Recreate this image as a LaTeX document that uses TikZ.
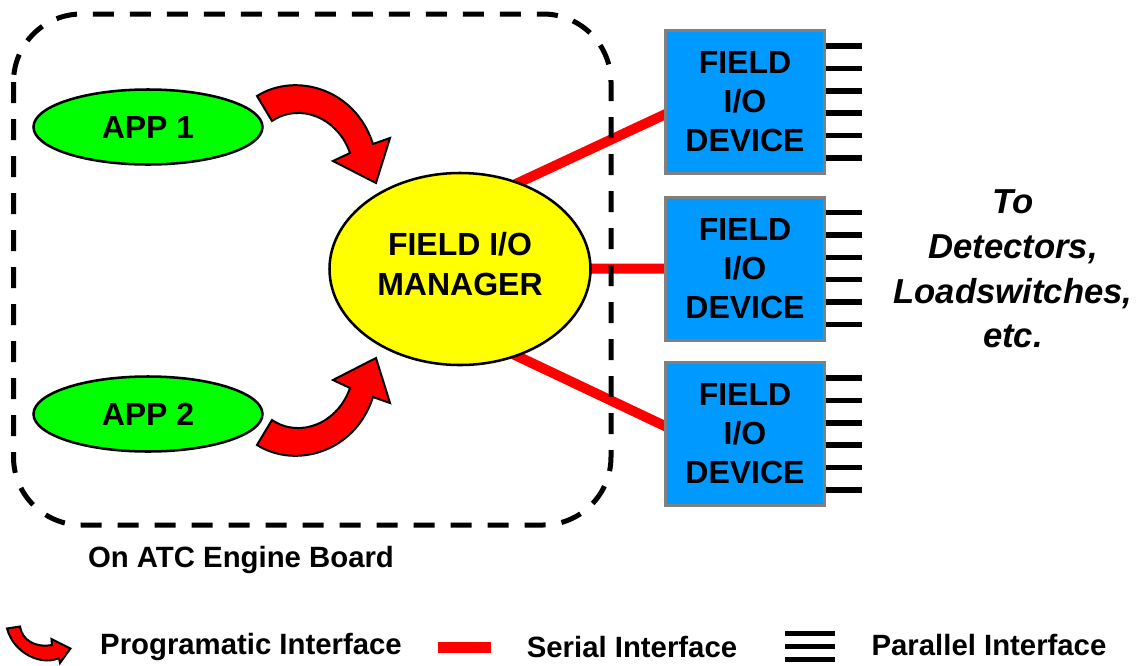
\documentclass[tikz,border=0pt]{standalone}
\usepackage{fontspec}
\setmainfont{Liberation Sans}
\usetikzlibrary{shapes.geometric,calc,backgrounds}

\definecolor{appgreen}{RGB}{0,255,0}
\definecolor{mgryellow}{RGB}{255,255,0}
\definecolor{devblue}{RGB}{0,153,255}
\definecolor{devgray}{RGB}{128,128,128}
\definecolor{linkred}{RGB}{255,0,0}

\tikzset{
  app/.style={ellipse, draw=black, line width=1.9pt, fill=appgreen,
    minimum width=171.75pt, minimum height=56.25pt, inner sep=0pt,
    font=\fontsize{24}{29}\selectfont\bfseries},
  mgrshape/.style={ellipse, draw=black, line width=1.9pt, fill=mgryellow,
    minimum width=195.75pt, minimum height=144pt, inner sep=0pt},
  bigtext/.style={align=center, inner sep=0pt,
    font=\fontsize{24}{30}\selectfont\bfseries},
  device/.style={rectangle, draw=devgray, line width=2.25pt, fill=devblue,
    minimum width=119.25pt, minimum height=107.25pt, inner sep=0pt,
    align=center, font=\fontsize{24}{29.25}\selectfont\bfseries},
  serial/.style={draw=linkred, line width=7.5pt},
  parallel/.style={draw=black, line width=4.1pt},
  boardedge/.style={draw=black, line width=3.75pt,
    dash pattern=on 15.75pt off 12pt, rounded corners=51pt},
  progarrowstyle/.style={fill=linkred, draw=black, line width=1.5pt,
    line join=miter},
  lbl/.style={inner sep=0pt, font=\fontsize{22}{26}\selectfont\bfseries},
  sidenote/.style={inner sep=0pt, align=center,
    font=\fontsize{26}{33.4}\selectfont\bfseries\itshape}
}

\begin{document}
\begin{tikzpicture}[x=0.75pt, y=-0.75pt]
\useasboundingbox (0,0) rectangle (1143,665);

% applications and the I/O manager
\node[app] (app1) at (148,127) {APP 1};
\node[app] (app2) at (148,414) {APP 2};
\node[mgrshape] (mgr) at (460,269) {};
\node[bigtext] (mgrtext) at ([yshift=3.75pt]mgr.center) {FIELD I/O\\MANAGER};

% field devices
\node[device] (dev1) at (745,102) {FIELD\\I/O\\DEVICE};
\node[device] (dev2) at (745,268.5) {FIELD\\I/O\\DEVICE};
\node[device] (dev3) at (745,434) {FIELD\\I/O\\DEVICE};

% serial links and parallel outputs
\begin{pgfonlayer}{background}
  \draw[serial] ($(mgr.center)+(0,-59)$) -- ($(dev1.west)+(4,11)$);
  \draw[serial] (mgr.center) -- ($(dev2.west)+(4,0)$);
  \draw[serial] ($(mgr.center)+(0,60)$) -- ($(dev3.west)+(4,-6.5)$);
  \foreach \i in {1,2,3}{
    \foreach \d in {-56,-33.6,-11.2,11.2,33.6,56}{
      \draw[parallel] ($(dev\i.east)+(-3,\d)$) -- ++(39,0);
    }
  }
\end{pgfonlayer}

% board outline
\draw[boardedge] (13.5,14) rectangle (611,525);
\node[lbl] (board) at (241,560) {On ATC Engine Board};

% programmatic calls into the manager
\path[progarrowstyle] (257,96) .. controls (295,72) and (355,88) .. (373,144)
  -- (390,138) -- (376,183) -- (333,161) -- (350,153)
  .. controls (338,118) and (300,102) .. (272,121) -- cycle;
\path[progarrowstyle] (257,445) .. controls (295,469) and (355,453) .. (373,397)
  -- (390,403) -- (376,358) -- (333,380) -- (350,388)
  .. controls (338,423) and (300,439) .. (272,420) -- cycle;

% destination note
\node[sidenote] (dest) at (1013,269) {To\\Detectors,\\Loadswitches,\\etc.};

% legend
\path[progarrowstyle] (7,628.5) -- (20,626.5)
  .. controls (22,640) and (35,648) .. (52,645)
  -- (51.5,639) -- (70.5,648.5) -- (60,663) -- (59,658)
  .. controls (42,666) and (14,654) .. (7,628.5) -- cycle;
\node[lbl] (lgprog) at (251,647) {Programatic Interface};
\coordinate (sera) at (438,647.5);
\coordinate (serb) at (491,647.5);
\draw[serial, line width=8.25pt] (sera) -- (serb);
\node[lbl] (lgser) at (632,647) {Serial Interface};
\foreach \y in {633,646,659}{
  \draw[parallel, line width=3.75pt] (785,\y) -- (835,\y);
}
\node[lbl] (lgpar) at (989,645) {Parallel Interface};
\end{tikzpicture}
\end{document}
